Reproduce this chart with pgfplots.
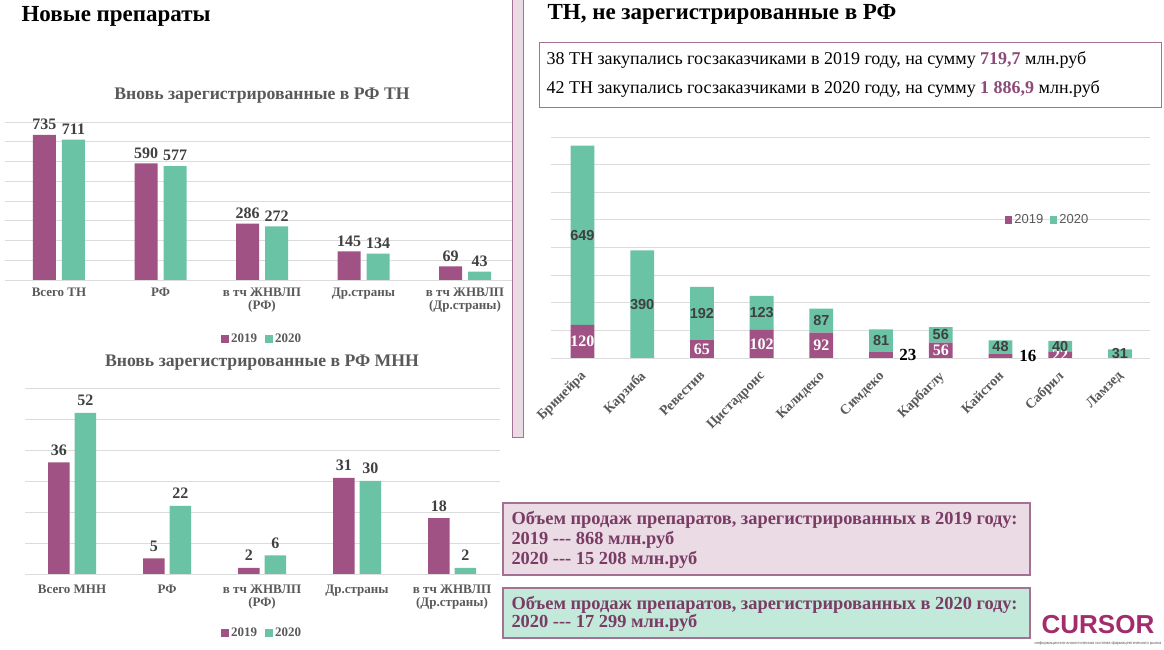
\documentclass[border=0pt]{standalone}
\usepackage{pgfplots}
\pgfplotsset{compat=1.18}
\usepackage{fontspec}
\setmainfont{Liberation Serif}
\setsansfont{Liberation Sans}
\definecolor{cA}{RGB}{160,82,132}
\definecolor{cB}{RGB}{106,195,165}
\definecolor{gridc}{RGB}{220,220,220}
\definecolor{lbl}{RGB}{89,89,89}
\definecolor{val}{RGB}{64,64,64}
\definecolor{frm}{RGB}{164,112,148}
\definecolor{pinkfill}{RGB}{234,219,229}
\definecolor{greenfill}{RGB}{195,233,219}
\definecolor{txtp}{RGB}{122,60,100}
\definecolor{numc}{RGB}{142,74,120}
\definecolor{cursor}{RGB}{163,45,108}
\newcommand{\fs}[1]{\fontsize{#1}{#1}\selectfont}

\pgfplotsset{
  leftbar/.style={
    scale only axis, ybar, ymin=0,
    axis line style={draw=none}, tick style={draw=none},
    ymajorgrids, grid style={gridc, line width=0.8pt},
    yticklabels={}, xtick=data,
    xticklabel style={font=\fs{13}\bfseries, text=lbl, align=center},
    nodes near coords,
    every node near coord/.append style={font=\fs{16}\bfseries, text=val, yshift=1.5pt},
    /pgf/number format/assume math mode=true,
    legend columns=2,
    legend style={draw=none, fill=none, font=\fs{13}\bfseries, text=lbl,
      /tikz/every even column/.append style={column sep=6pt}},
    clip=false,
  }
}

\begin{document}
\begin{tikzpicture}[x=1pt,y=1pt]
\path[use as bounding box, fill=white] (0,0) rectangle (1164,650);

% headings
\node[anchor=west, font=\fs{23}\bfseries] at (18,634) {Новые препараты};
\node[font=\fs{17.7}\bfseries, text=lbl] at (262,554) {Вновь зарегистрированные в РФ ТН};
\node[font=\fs{17.7}\bfseries, text=lbl] at (262,287) {Вновь зарегистрированные в РФ МНН};

% pink separator
\draw[frm, fill=pinkfill, line width=0.8pt] (512,213) rectangle (523,651);

% right heading and box
\node[anchor=west, font=\fs{23}\bfseries] at (544,636) {ТН, не зарегистрированные в РФ};
\draw[frm, line width=1pt] (539,542) rectangle (1161,607);
\node[anchor=west, font=\fs{18}] at (543,590) {38 ТН закупались госзаказчиками в 2019 году, на сумму \textcolor{numc}{\bfseries 719,7} млн.руб};
\node[anchor=west, font=\fs{18}] at (543,561) {42 ТН закупались госзаказчиками в 2020 году, на сумму \textcolor{numc}{\bfseries 1 886,9} млн.руб};

% bottom boxes
\draw[frm, fill=pinkfill, line width=1.2pt] (503,75) rectangle (1030,147);
\node[anchor=west, font=\fs{18.4}\bfseries, text=txtp] at (508,130) {Объем продаж препаратов, зарегистрированных в 2019 году:};
\node[anchor=west, font=\fs{18.4}\bfseries, text=txtp] at (508,110) {2019 -{}-{}- 868 млн.руб};
\node[anchor=west, font=\fs{18.4}\bfseries, text=txtp] at (508,90) {2020 -{}-{}- 15 208 млн.руб};
\draw[frm, fill=greenfill, line width=1.2pt] (503,12) rectangle (1030,62);
\node[anchor=west, font=\fs{18.4}\bfseries, text=txtp] at (508,45) {Объем продаж препаратов, зарегистрированных в 2020 году:};
\node[anchor=west, font=\fs{18.4}\bfseries, text=txtp] at (508,27) {2020 -{}-{}- 17 299 млн.руб};

% logo
\node[font=\fs{26}\sffamily\bfseries, text=cursor] at (1098,25) {CURSOR};
\node[font=\fs{4}\sffamily, text=lbl] at (1098,7) {информационно-аналитическая система фармацевтического рынка};

% chart 1
\begin{axis}[leftbar, at={(5pt,370pt)}, anchor=south west, width=507pt, height=158pt,
  xmin=-0.532, xmax=4.463, ymax=800, ytick={0,100,...,800},
  bar width=23pt, ybar=6pt,
  legend image code/.code={\fill[#1,draw=none] (0pt,-4pt) rectangle (8pt,4pt);},
  xticklabels={Всего ТН, РФ, {в тч ЖНВЛП\\(РФ)}, Др.страны, {в тч ЖНВЛП\\(Др.страны)}},
  legend style={at={(0.507,-0.373)}, anchor=center}]
\addplot[fill=cA, draw=none] coordinates {(0,735) (1,590) (2,286) (3,145) (4,69)};
\addplot[fill=cB, draw=none] coordinates {(0,711) (1,577) (2,272) (3,134) (4,43)};
\legend{2019,2020}
\end{axis}

% chart 2
\begin{axis}[leftbar, at={(25pt,76pt)}, anchor=south west, width=475pt, height=186pt,
  xmin=-0.495, xmax=4.505, ymax=60, ytick={0,10,...,60},
  bar width=21.5pt, ybar=5pt,
  legend image code/.code={\fill[#1,draw=none] (0pt,-4pt) rectangle (8pt,4pt);},
  xticklabel style={yshift=-3pt},
  every node near coord/.append style={yshift=2pt},
  xticklabels={Всего МНН, РФ, {в тч ЖНВЛП\\(РФ)}, Др.страны, {в тч ЖНВЛП\\(Др.страны)}},
  legend style={at={(0.499,-0.317)}, anchor=center}]
\addplot[fill=cA, draw=none] coordinates {(0,36) (1,5) (2,2) (3,31) (4,18)};
\addplot[fill=cB, draw=none] coordinates {(0,52) (1,22) (2,6) (3,30) (4,2)};
\legend{2019,2020}
\end{axis}

% chart 3 (stacked)
\begin{axis}[scale only axis, at={(550.8pt,292pt)}, anchor=south west, width=599.6pt, height=221pt,
  ybar stacked, bar width=23.8pt, ymin=0, ymax=800, ytick={0,100,...,800}, yticklabels={},
  xmin=-0.53, xmax=9.51, xtick=data,
  xticklabels={Бринейра, Карзиба, Ревестив, Цистадронс, Калидеко, Симдеко, Карбаглу, Кайстон, Сабрил, Ламзед},
  xticklabel style={yshift=-7pt, xshift=-3pt, rotate=45, anchor=north east, font=\fs{14}\bfseries, text=lbl},
  axis line style={draw=none}, tick style={draw=none},
  ymajorgrids, grid style={gridc, line width=0.8pt},
  legend columns=2,
  legend style={at={(0.829,0.624)}, anchor=center, draw=none, fill=none, font=\fs{13}\sffamily, text=lbl,
      /tikz/every even column/.append style={column sep=5pt}},
  legend image code/.code={\fill[#1,draw=none] (0pt,-4pt) rectangle (7pt,4pt);},
  clip=false]
\addplot[fill=cA, draw=none] coordinates {(0,120) (1,0) (2,65) (3,102) (4,92) (5,23) (6,56) (7,16) (8,22) (9,0)};
\addplot[fill=cB, draw=none] coordinates {(0,649) (1,390) (2,192) (3,123) (4,87) (5,81) (6,56) (7,48) (8,40) (9,31)};
\legend{2019,2020}
\end{axis}

% labels for chart 3
\begin{axis}[scale only axis, at={(550.8pt,292pt)}, anchor=south west, width=599.6pt, height=221pt,
  ymin=0, ymax=800, xmin=-0.53, xmax=9.51, hide axis, clip=false]
\addplot[draw=none, nodes near coords, point meta=explicit symbolic,
  every node near coord/.append style={anchor=center, font=\fs{16}\bfseries, text=white}]
  table[meta=l] {
x y l
0 60 120
2 32.5 65
3 51 102
4 46 92
6 28 56
8 11 22
};
\addplot[draw=none, nodes near coords, point meta=explicit symbolic,
  every node near coord/.append style={anchor=center, font=\fs{17}\bfseries, text=black}]
  table[meta=l] {
x y l
5.45 11 23
7.46 7 16
};
\addplot[draw=none, nodes near coords, point meta=explicit symbolic,
  every node near coord/.append style={anchor=center, font=\fs{14.5}\sffamily\bfseries, text=val}]
  table[meta=l] {
x y l
0 444.5 649
1 195 390
2 161 192
3 163.5 123
4 135.5 87
5 63.5 81
6 84 56
7 40 48
8 42 40
9 15.5 31
};
\end{axis}
\end{tikzpicture}
\end{document}
